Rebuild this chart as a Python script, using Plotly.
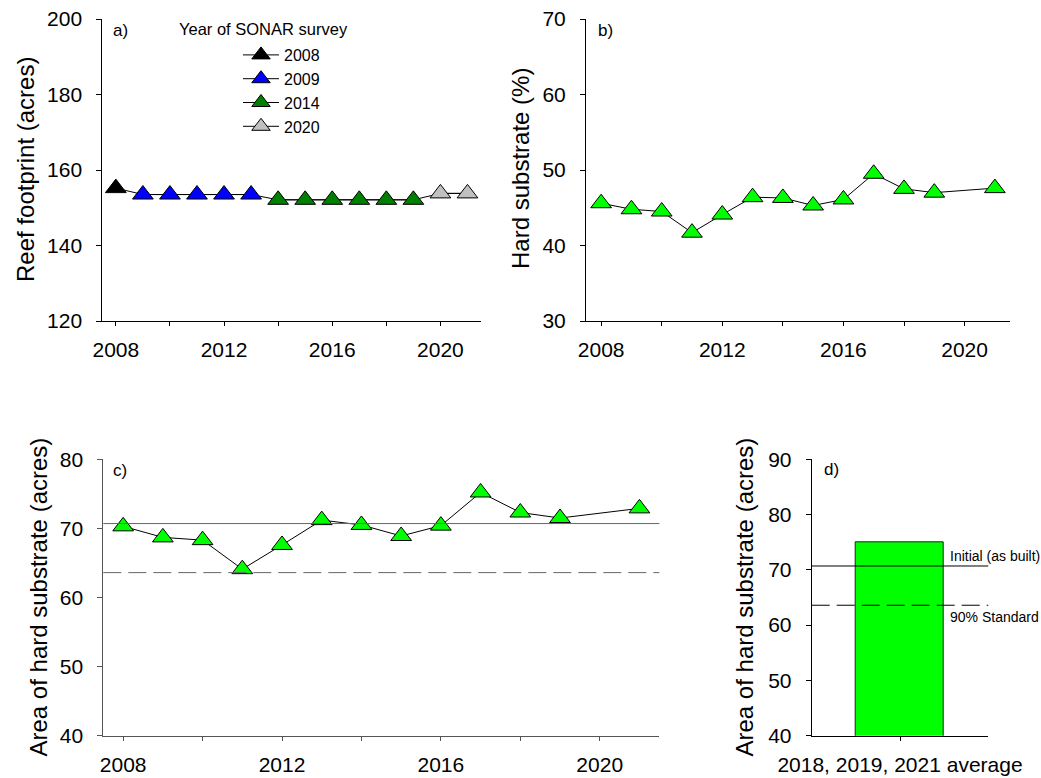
import plotly.graph_objects as go

W, H = 1041, 778
FONT = "Liberation Sans, Arial, sans-serif"

# ---- Panel a: reef footprint, grouped by SONAR survey ----
fp_years_2008 = [2008]
fp_vals_2008 = [155.2]
fp_years_2009 = [2009, 2010, 2011, 2012, 2013]
fp_vals_2009 = [153.5, 153.5, 153.5, 153.5, 153.5]
fp_years_2014 = [2014, 2015, 2016, 2017, 2018, 2019]
fp_vals_2014 = [152.1, 152.1, 152.1, 152.1, 152.1, 152.1]
fp_years_2020 = [2020, 2021]
fp_vals_2020 = [153.8, 153.8]

survey_names = ["2008", "2009", "2014", "2020"]
survey_colors = ["#000000", "#0000ff", "#008000", "#c0c0c0"]

# ---- Panels b and c: hard substrate by year ----
years = [2008, 2009, 2010, 2011, 2012, 2013, 2014, 2015, 2016, 2017, 2018, 2019, 2021]
hard_pct = [45.6, 44.8, 44.5, 41.7, 44.1, 46.4, 46.3, 45.3, 46.1, 49.5, 47.5, 47.0, 47.6]
hard_area = [70.3, 68.7, 68.3, 64.1, 67.6, 71.2, 70.5, 68.9, 70.4, 75.2, 72.3, 71.5, 72.9]

# Reference levels (acres)
initial_area = 70.7
standard_area = 63.6

# ---- Panel d: recent average ----
avg_label = ["2018, 2019, 2021 average"]
avg_area = [75.0]


def px(x):
    return x / W


def py(y):
    return 1 - y / H


fig = go.Figure()

MSIZE = 18

# Panel a: connecting line, then coloured markers per survey
fp_years = fp_years_2008 + fp_years_2009 + fp_years_2014 + fp_years_2020
fp_vals = fp_vals_2008 + fp_vals_2009 + fp_vals_2014 + fp_vals_2020
fig.add_trace(go.Scatter(x=fp_years, y=fp_vals, mode="lines",
                         line=dict(color="#000000", width=1),
                         showlegend=False, hoverinfo="skip",
                         xaxis="x", yaxis="y"))
groups = [(fp_years_2008, fp_vals_2008), (fp_years_2009, fp_vals_2009),
          (fp_years_2014, fp_vals_2014), (fp_years_2020, fp_vals_2020)]
for (gx, gy), name, col in zip(groups, survey_names, survey_colors):
    fig.add_trace(go.Scatter(
        x=gx, y=gy, mode="lines+markers", name=name,
        line=dict(color="#000000", width=1),
        marker=dict(symbol="triangle-up", size=MSIZE, color=col,
                    line=dict(color="#000000", width=1)),
        xaxis="x", yaxis="y"))

tri = dict(symbol="triangle-up", size=MSIZE, color="#00ff00",
           line=dict(color="#000000", width=1))

# Panel b
fig.add_trace(go.Scatter(x=years, y=hard_pct, mode="lines+markers",
                         line=dict(color="#000000", width=1), marker=tri,
                         showlegend=False, xaxis="x2", yaxis="y2"))

# Panel c
fig.add_trace(go.Scatter(x=years, y=hard_area, mode="lines+markers",
                         line=dict(color="#000000", width=1), marker=tri,
                         showlegend=False, xaxis="x3", yaxis="y3"))

# Panel d
fig.add_trace(go.Bar(x=[0], y=avg_area, width=1,
                     marker=dict(color="#00ff00", line=dict(color="#222222", width=1)),
                     showlegend=False, xaxis="x4", yaxis="y4"))

tickfont = dict(family=FONT, size=21, color="#000000")


def axis_style(color="#000000"):
    return dict(showline=True, linecolor=color, linewidth=1, showgrid=False,
                zeroline=False, ticks="outside", tickcolor=color,
                tickfont=tickfont, automargin=False)


def year_axis(color="#000000"):
    return dict(range=[2007.5, 2021.5], tick0=2008, dtick=4, ticklen=4,
                ticklabelstandoff=6,
                minor=dict(dtick=2, tick0=2008, ticks="outside", ticklen=4,
                           tickcolor=color), **axis_style(color))


top = [py(321), py(19)]
bottom = [py(735.7), py(459.3)]
GREY_AX = "#555555"

fig.update_layout(
    template="none",
    width=W, height=H,
    margin=dict(l=0, r=0, t=0, b=0, autoexpand=False),
    paper_bgcolor="#ffffff", plot_bgcolor="#ffffff",
    font=dict(family=FONT, color="#000000"),
    xaxis=dict(domain=[px(102.3), px(481)], anchor="y", **year_axis()),
    yaxis=dict(domain=top, anchor="x", range=[120, 200], dtick=20,
               ticklen=5, ticklabelstandoff=10, **axis_style()),
    xaxis2=dict(domain=[px(586), px(1010)], anchor="y2", **year_axis()),
    yaxis2=dict(domain=top, anchor="x2", range=[30, 70], dtick=10,
                ticklen=5, ticklabelstandoff=10, **axis_style()),
    xaxis3=dict(domain=[px(103.3), px(659.3)], anchor="y3", **year_axis(GREY_AX)),
    yaxis3=dict(domain=bottom, anchor="x3", range=[40, 80], dtick=10,
                ticklen=5, ticklabelstandoff=10, **axis_style(GREY_AX)),
    xaxis4=dict(domain=[px(811.7), px(988.3)], anchor="y4", range=[-1, 1],
                tickvals=[0], ticktext=avg_label, ticklen=4,
                ticklabelstandoff=6, **axis_style()),
    yaxis4=dict(domain=bottom, anchor="x4", range=[40, 90], dtick=10,
                ticklen=5, ticklabelstandoff=10, **axis_style()),
    legend=dict(x=px(238), y=py(38), xanchor="left", yanchor="top",
                bgcolor="rgba(0,0,0,0)", borderwidth=0, itemwidth=36,
                font=dict(family=FONT, size=16, color="#000000"),
                tracegroupgap=0),
    bargap=0,
)

# Reference lines in panels c and d
for xr, yr, col in [("x3 domain", "y3", "#666666"), ("x4 domain", "y4", "#000000")]:
    fig.add_shape(type="line", xref=xr, yref=yr, x0=0, x1=1,
                  y0=initial_area, y1=initial_area,
                  line=dict(color=col, width=1))
    fig.add_shape(type="line", xref=xr, yref=yr, x0=0, x1=1,
                  y0=standard_area, y1=standard_area,
                  line=dict(color=col, width=1, dash="18px,7px"))

annos = [
    # panel letters
    dict(text="a)", x=px(110.7), y=py(30.7), xanchor="left", size=17),
    dict(text="b)", x=px(596), y=py(30.7), xanchor="left", size=17),
    dict(text="c)", x=px(110.7), y=py(470), xanchor="left", size=17),
    dict(text="d)", x=px(821.7), y=py(469.3), xanchor="left", size=17),
    # legend heading
    dict(text="Year of SONAR survey", x=px(177), y=py(29), xanchor="left", size=16.5),
    # reference line labels
    dict(text="Initial (as built)", x=px(948), y=py(555.7), xanchor="left", size=14),
    dict(text="90% Standard", x=px(948), y=py(617.3), xanchor="left", size=14),
]
for a in annos:
    fig.add_annotation(xref="paper", yref="paper", x=a["x"], y=a["y"],
                       text=a["text"], showarrow=False, xanchor=a["xanchor"],
                       yanchor="middle",
                       font=dict(family=FONT, size=a["size"], color="#000000"))

# Axis titles
titles = [
    ("Reef footprint (acres)", 25, 170),
    ("Hard substrate (%)", 521, 169),
    ("Area of hard substrate (acres)", 38, 597.5),
    ("Area of hard substrate (acres)", 744, 597.5),
]
for text, tx, ty in titles:
    fig.add_annotation(xref="paper", yref="paper", x=px(tx), y=py(ty),
                       text=text, showarrow=False, textangle=-90,
                       xanchor="center", yanchor="middle",
                       font=dict(family=FONT, size=24, color="#000000"))

fig.write_html("out.html")
